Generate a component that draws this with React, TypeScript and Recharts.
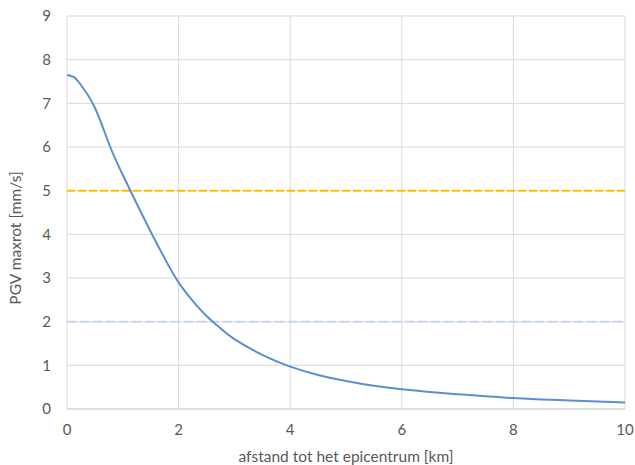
import React from "react";
import {
  CartesianGrid,
  Label,
  Line,
  LineChart,
  ReferenceLine,
  XAxis,
  YAxis,
} from "recharts";

// afstand tot het epicentrum [km]
const distances = [
  0, 0.125, 0.25, 0.5, 0.75, 1, 1.25, 1.5, 1.75, 2, 2.25, 2.5, 2.75, 3, 3.5,
  4, 4.5, 5, 5.5, 6, 6.5, 7, 7.5, 8, 8.5, 9, 9.5, 10,
];

// PGV maxrot [mm/s]
const pgvValues = [
  7.65, 7.6, 7.42, 6.9, 6.08, 5.36, 4.7, 4.06, 3.45, 2.9, 2.48, 2.13, 1.85,
  1.6, 1.24, 0.97, 0.78, 0.64, 0.53, 0.45, 0.39, 0.34, 0.29, 0.25, 0.22,
  0.195, 0.17, 0.15,
];

const xTicks = [0, 2, 4, 6, 8, 10];
const yTicks = [0, 1, 2, 3, 4, 5, 6, 7, 8, 9];

const LIMIT_HIGH = 5;
const LIMIT_LOW = 2;

const data = distances.map((d, i) => ({ afstand: d, pgv: pgvValues[i] }));

const FONT = "Lato, 'Open Sans', sans-serif";
const TEXT = "#595959";

export default function App() {
  return (
    <div style={{ position: "absolute", left: 0, top: 0, background: "#fff" }}>
      <LineChart
        data={data}
        height={465}
        margin={{ bottom: 0, left: 0, right: 10, top: 16 }}
        style={{ fontFamily: FONT }}
        width={635}
      >
        <CartesianGrid stroke="#d9d9d9" strokeWidth={1} />
        <XAxis
          axisLine={{ stroke: "#d0d0d0" }}
          dataKey="afstand"
          domain={[0, 10]}
          height={56}
          tick={{ fill: TEXT, fontSize: 15 }}
          tickLine={false}
          tickMargin={9}
          ticks={xTicks}
          type="number"
        >
          <Label
            fill={TEXT}
            fontSize={15.5}
            offset={3}
            position="insideBottom"
            value="afstand tot het epicentrum [km]"
          />
        </XAxis>
        <YAxis
          axisLine={false}
          domain={[0, 9]}
          tick={{ fill: TEXT, fontSize: 15 }}
          tickLine={false}
          tickMargin={10}
          ticks={yTicks}
          type="number"
          width={67}
        >
          <Label
            content={() => (
              <text
                dominantBaseline="central"
                fill={TEXT}
                fontSize={15.5}
                textAnchor="middle"
                transform="rotate(-90 15 238)"
                x={15}
                y={238}
              >
                PGV maxrot [mm/s]
              </text>
            )}
          />
        </YAxis>
        <ReferenceLine
          stroke="#ffc000"
          strokeDasharray="8 3"
          strokeWidth={2}
          y={LIMIT_HIGH}
        />
        <ReferenceLine
          stroke="#c5d7f0"
          strokeDasharray="9 4"
          strokeWidth={2}
          y={LIMIT_LOW}
        />
        <Line
          dataKey="pgv"
          dot={false}
          isAnimationActive={false}
          stroke="#5b8fd0"
          strokeWidth={2}
          type="natural"
        />
      </LineChart>
    </div>
  );
}
